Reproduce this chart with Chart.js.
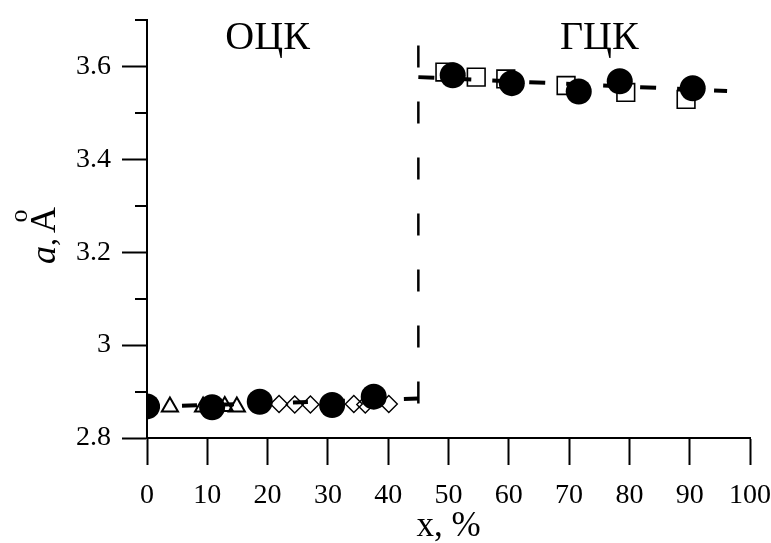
<!DOCTYPE html>
<html>
<head>
<meta charset="utf-8">
<script src="https://cdn.jsdelivr.net/npm/chart.js@4/dist/chart.umd.min.js"></script>
<style>
  html, body { margin: 0; padding: 0; background: #fff; }
  #chart { display: block; }
</style>
</head>
<body>
<canvas id="chart" width="771" height="543"></canvas>
<script>
// filled circles (both phases)
const circleX = [0, 10.8, 18.7, 30.7, 37.6, 50.7, 60.5, 71.6, 78.4, 90.5];
const circleY = [2.868, 2.866, 2.878, 2.871, 2.889, 3.581, 3.564, 3.546, 3.568, 3.553];
// open squares (fcc)
const squareX = [49.4, 54.6, 59.5, 69.5, 79.4, 89.4];
const squareY = [3.588, 3.577, 3.573, 3.559, 3.544, 3.529];
// open triangles (bcc)
const triX = [3.8, 9.3, 12.9, 14.9];
const triY = [2.867, 2.867, 2.868, 2.867];
// open diamonds (bcc)
const diaX = [21.9, 24.5, 27.1, 34.3, 36.2, 40.1];
const diaY = [2.873, 2.872, 2.872, 2.873, 2.872, 2.873];
// fitted lines and the phase boundary
const fitBccX = [0, 45];
const fitBccY = [2.867, 2.885];
const fitFccX = [45, 96.2];
const fitFccY = [3.577, 3.547];
const boundaryX = [45, 45];
const boundaryY = [3.645, 2.8];
// axis ticks
const xTicks = [0, 10, 20, 30, 40, 50, 60, 70, 80, 90, 100];
const yTicks = [2.8, 3.0, 3.2, 3.4, 3.6];
const yMinorTicks = [2.9, 3.1, 3.3, 3.5, 3.7];
// phase names
const phaseNames = ['ОЦК', 'ГЦК'];
const phaseX = [20, 75];
const phaseY = 3.66;

const FONT = '"Liberation Serif", "Times New Roman", serif';

const pts = (xs, ys) => xs.map((x, i) => ({ x: x, y: ys[i] }));

// keep the plot box fixed regardless of label overhang
const noPad = s => {
    s.paddingLeft = 0;
    s.paddingRight = 0;
    s.paddingTop = 0;
    s.paddingBottom = 0;
};

const decor = {
    id: 'decor',
    afterDraw(chart) {
        const ctx = chart.ctx;
        const xs = chart.scales.x;
        const ys = chart.scales.y;
        const left = chart.chartArea.left;
        ctx.save();
        ctx.strokeStyle = '#000';
        ctx.fillStyle = '#000';

        // short ticks between the labelled ones
        ctx.lineWidth = 2;
        yMinorTicks.forEach(v => {
            const py = Math.round(ys.getPixelForValue(v));
            ctx.beginPath();
            ctx.moveTo(left - 12, py);
            ctx.lineTo(left, py);
            ctx.stroke();
        });

        // phase names
        ctx.font = '40px ' + FONT;
        ctx.textAlign = 'center';
        ctx.textBaseline = 'middle';
        phaseNames.forEach((t, i) => {
            ctx.fillText(t, xs.getPixelForValue(phaseX[i]), ys.getPixelForValue(phaseY));
        });

        // y title: italic a, then angstrom with its ring above
        ctx.translate(55, 230);
        ctx.rotate(-Math.PI / 2);
        ctx.textAlign = 'left';
        ctx.textBaseline = 'alphabetic';
        ctx.font = 'italic 36px ' + FONT;
        ctx.fillText('a', -34, 0);
        ctx.font = '32px ' + FONT;
        ctx.fillText(',', -16, 0);
        ctx.font = '36px ' + FONT;
        ctx.fillText('A', -3, 0);
        ctx.font = '26px ' + FONT;
        ctx.textAlign = 'center';
        ctx.fillText('o', 14, -28);
        ctx.restore();
    }
};

new Chart(document.getElementById('chart').getContext('2d'), {
    type: 'scatter',
    data: {
        datasets: [
            {
                data: pts(circleX, circleY),
                pointStyle: 'circle',
                pointRadius: 13,
                backgroundColor: '#000',
                borderColor: '#000',
                borderWidth: 0
            },
            {
                data: pts(fitBccX, fitBccY),
                showLine: true,
                pointRadius: 0,
                borderColor: '#000',
                borderWidth: 4,
                borderDash: [15, 22],
                borderDashOffset: 2
            },
            {
                data: pts(fitFccX, fitFccY),
                showLine: true,
                pointRadius: 0,
                borderColor: '#000',
                borderWidth: 4,
                borderDash: [16, 21]
            },
            {
                data: pts(boundaryX, boundaryY),
                showLine: true,
                pointRadius: 0,
                borderColor: '#000',
                borderWidth: 2.5,
                borderDash: [22, 34]
            },
            {
                data: pts(squareX, squareY),
                pointStyle: 'rect',
                pointRadius: 12.5,
                backgroundColor: 'rgba(255,255,255,0)',
                borderColor: '#000',
                borderWidth: 1.6
            },
            {
                data: pts(triX, triY),
                pointStyle: 'triangle',
                pointRadius: 9.3,
                backgroundColor: 'rgba(255,255,255,0)',
                borderColor: '#000',
                borderWidth: 2
            },
            {
                data: pts(diaX, diaY),
                pointStyle: 'rectRot',
                pointRadius: 8.5,
                backgroundColor: 'rgba(255,255,255,0)',
                borderColor: '#000',
                borderWidth: 1.4
            }
        ]
    },
    options: {
        responsive: false,
        animation: false,
        devicePixelRatio: 1,
        layout: { padding: { top: 20, right: 21, left: 0, bottom: 0 } },
        plugins: {
            legend: { display: false },
            tooltip: { enabled: false }
        },
        scales: {
            x: {
                type: 'linear',
                min: 0,
                max: 100,
                afterBuildTicks: s => { s.ticks = xTicks.map(v => ({ value: v })); },
                afterFit: s => { s.height = 105; noPad(s); },
                grid: {
                    drawOnChartArea: false,
                    tickLength: 27,
                    tickColor: '#000',
                    tickWidth: 2
                },
                border: { display: true, color: '#000', width: 2 },
                ticks: {
                    color: '#000',
                    padding: 14,
                    maxRotation: 0,
                    font: { family: FONT, size: 28 }
                },
                title: {
                    display: true,
                    text: 'x, %',
                    color: '#000',
                    padding: 0,
                    font: { family: FONT, size: 35, lineHeight: 0.95 }
                }
            },
            y: {
                type: 'linear',
                min: 2.8,
                max: 3.7,
                afterBuildTicks: s => { s.ticks = yTicks.map(v => ({ value: v })); },
                afterFit: s => { s.width = 147; noPad(s); },
                grid: {
                    drawOnChartArea: false,
                    tickLength: 25,
                    tickColor: '#000',
                    tickWidth: 2
                },
                border: { display: true, color: '#000', width: 2 },
                ticks: {
                    color: '#000',
                    padding: 11,
                    font: { family: FONT, size: 28 },
                    callback: v => String(+v.toFixed(1))
                }
            }
        }
    },
    plugins: [decor]
});
</script>
</body>
</html>
